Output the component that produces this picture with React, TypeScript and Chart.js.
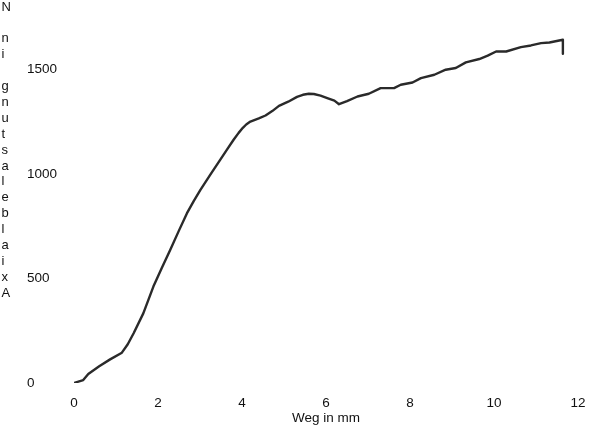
import React, { useEffect, useRef } from "react";
import { Chart, registerables } from "chart.js";

Chart.register(...registerables);

const wegMm = [
  0, 0.22, 0.34, 0.6, 0.86, 1.14, 1.28, 1.42, 1.65, 1.89, 2.09, 2.29, 2.49, 2.69, 2.85, 3.01,
  3.25, 3.48, 3.65, 3.8, 3.92, 4.02, 4.1, 4.2, 4.4, 4.56, 4.72, 4.88, 5.1, 5.31, 5.45, 5.59,
  5.71, 5.87, 6.03, 6.2, 6.31, 6.5, 6.75, 7.02, 7.3, 7.62, 7.78, 8.06, 8.26, 8.58, 8.85,
  9.09, 9.33, 9.65, 9.85, 10.05, 10.29, 10.64, 10.88, 11.12, 11.32, 11.64, 11.64,
];
const kraftN = [
  0, 14, 43, 80, 113, 145, 185, 238, 333, 461, 550, 636, 725, 812, 870, 923,
  998, 1067, 1118, 1163, 1196, 1220, 1236, 1250, 1265, 1279, 1300, 1325, 1345, 1368, 1378, 1383,
  1382, 1374, 1362, 1350, 1333, 1348, 1370, 1383, 1410, 1410, 1426, 1437, 1458, 1474, 1498,
  1506, 1533, 1549, 1565, 1585, 1585, 1606, 1614, 1625, 1628, 1641, 1574,
];
const yTicks = [0, 500, 1000, 1500];
const xTitle = "Weg in mm";
const yTitle = "Axialbelastung in N";

const stackedTitle = {
  id: "stackedTitle",
  afterDraw(chart: any) {
    const ctx = chart.ctx;
    const letters = yTitle.split("").reverse();
    ctx.save();
    ctx.font = "13px 'Liberation Sans', Arial, sans-serif";
    ctx.fillStyle = "#111";
    ctx.textAlign = "left";
    ctx.textBaseline = "middle";
    letters.forEach((ch: string, i: number) => {
      ctx.fillText(ch, 1.5, 7 + i * 15.9);
    });
    ctx.restore();
  },
};

export default function App() {
  const ref = useRef<HTMLCanvasElement>(null);
  useEffect(() => {
    document.body.style.margin = "0";
    const font = { family: "'Liberation Sans', Arial, sans-serif", size: 13.5 };
    const chart = new Chart(ref.current!, {
      type: "line",
      data: {
        datasets: [
          {
            data: wegMm.map((x, i) => ({ x, y: kraftN[i] })),
            borderColor: "#2a2a2a",
            borderWidth: 2.4,
            borderJoinStyle: "round",
            pointRadius: 0,
            tension: 0,
            fill: false,
          },
        ],
      },
      plugins: [stackedTitle],
      options: {
        animation: false,
        responsive: false,
        layout: { padding: { left: 27, right: 22, top: 17, bottom: 0 } },
        plugins: { legend: { display: false }, tooltip: { enabled: false } },
        scales: {
          x: {
            type: "linear",
            min: 0,
            max: 12,
            border: { display: false },
            grid: { display: false, drawTicks: false },
            ticks: { stepSize: 2, padding: 12, color: "#111", font, maxRotation: 0 },
            title: { display: true, text: xTitle, color: "#111", font, padding: { top: 0, bottom: 9 } },
            afterFit: (s: any) => {
              s.height = 52;
            },
          },
          y: {
            min: 0,
            max: 1750,
            border: { display: false },
            grid: { display: false, drawTicks: false },
            ticks: { color: "#111", font, crossAlign: "far", callback: (v: any) => String(v) },
            afterBuildTicks: (s: any) => {
              s.ticks = yTicks.map((v) => ({ value: v }));
            },
            afterFit: (s: any) => {
              s.width = 47;
            },
          },
        },
      },
    });
    return () => chart.destroy();
  }, []);
  return <canvas ref={ref} width={600} height={435} style={{ display: "block" }} />;
}
